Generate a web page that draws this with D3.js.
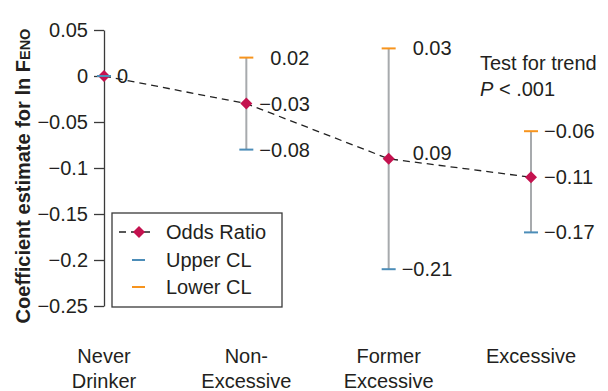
<!DOCTYPE html>
<html>
<head>
<meta charset="utf-8">
<script src="https://cdn.jsdelivr.net/npm/d3@7"></script>
<style>
  html, body { margin: 0; padding: 0; background: #fff; }
  svg { display: block; font-family: "Liberation Sans", Arial, Helvetica, sans-serif; }
</style>
</head>
<body>
<div id="chart"></div>
<script>
// Data
const categories = ["Never Drinker", "Non-Excessive", "Former Excessive", "Excessive"];
const estimates = [0, -0.03, -0.09, -0.11];
const upperCL = [0, 0.02, 0.03, -0.06];   // top of bar (orange)
const lowerCL = [0, -0.08, -0.21, -0.17]; // bottom of bar (blue)
const estimateLabels = ["0", "\u22120.03", "0.09", "\u22120.11"];
const topLabels = [null, "0.02", "0.03", "\u22120.06"];
const bottomLabels = [null, "\u22120.08", "\u22120.21", "\u22120.17"];
const yTicks = [0.05, 0, -0.05, -0.1, -0.15, -0.2, -0.25];
const yTickLabels = ["0.05", "0", "\u22120.05", "\u22120.1", "\u22120.15", "\u22120.2", "\u22120.25"];

// Colors
const textColor = "#231F20";
const axisColor = "#3a3a3a";
const markerColor = "#C4124F";
const barColor = "#A7AAAD";
const orange = "#F7941D";
const blue = "#4C8DB8";

const width = 608, height = 391;
const fontSize = "20px";

const svg = d3.select("#chart").append("svg")
    .attr("width", width)
    .attr("height", height);

const x = d3.scalePoint().domain(categories).range([104, 531]);
const y = d3.scaleLinear().domain([-0.25, 0.05]).range([306, 30]);

// Y axis
const yAxis = d3.axisLeft(y)
    .tickValues(yTicks)
    .tickSize(10)
    .tickSizeOuter(0)
    .tickFormat((d, i) => yTickLabels[i]);

const yg = svg.append("g")
    .attr("transform", "translate(104,0)")
    .call(yAxis);
yg.select(".domain").attr("stroke", axisColor).attr("stroke-width", 1.3);
yg.selectAll(".tick line").attr("stroke", axisColor).attr("stroke-width", 1.3);
yg.selectAll(".tick text")
    .attr("x", -16)
    .attr("fill", textColor)
    .attr("font-size", fontSize)
    .attr("font-family", "'Liberation Sans', Arial, sans-serif");

// Y title
const yTitle = svg.append("text")
    .attr("transform", "translate(30,176) rotate(-90)")
    .attr("text-anchor", "middle")
    .attr("fill", textColor)
    .attr("font-size", "20px")
    .attr("font-weight", "bold");
yTitle.append("tspan").text("Coefficient estimate for ln F");
yTitle.append("tspan").attr("font-size", "14.5px").text("ENO");

// X category labels (two lines)
const labelLines = {
    "Never Drinker": ["Never", "Drinker"],
    "Non-Excessive": ["Non-", "Excessive"],
    "Former Excessive": ["Former", "Excessive"],
    "Excessive": ["Excessive"]
};
categories.forEach(c => {
    const t = svg.append("text")
        .attr("x", x(c))
        .attr("y", 363)
        .attr("text-anchor", "middle")
        .attr("fill", textColor)
        .attr("font-size", fontSize);
    labelLines[c].forEach((l, i) => {
        t.append("tspan").attr("x", x(c)).attr("dy", i === 0 ? 0 : 25).text(l);
    });
});

// Dashed trend line
const line = d3.line()
    .x((d, i) => x(categories[i]))
    .y(d => y(d));
svg.append("path")
    .datum(estimates)
    .attr("fill", "none")
    .attr("stroke", "#222")
    .attr("stroke-width", 1.3)
    .attr("stroke-dasharray", "7,5")
    .attr("d", line);

// Error bars
categories.forEach((c, i) => {
    svg.append("line")
        .attr("x1", x(c)).attr("x2", x(c))
        .attr("y1", y(upperCL[i])).attr("y2", y(lowerCL[i]))
        .attr("stroke", barColor)
        .attr("stroke-width", 2);
});

// Diamonds
const diamond = (cx, cy, r) => `M${cx},${cy - r}L${cx + r},${cy}L${cx},${cy + r}L${cx - r},${cy}Z`;
categories.forEach((c, i) => {
    svg.append("path")
        .attr("d", diamond(x(c), y(estimates[i]), 6))
        .attr("fill", markerColor);
});

// Caps
categories.forEach((c, i) => {
    svg.append("line")
        .attr("x1", x(c) - 7).attr("x2", x(c) + 7)
        .attr("y1", y(upperCL[i])).attr("y2", y(upperCL[i]))
        .attr("stroke", orange).attr("stroke-width", 2);
    svg.append("line")
        .attr("x1", x(c) - 7).attr("x2", x(c) + 7)
        .attr("y1", y(lowerCL[i])).attr("y2", y(lowerCL[i]))
        .attr("stroke", blue).attr("stroke-width", 2);
});

// Value labels
const labelDx = s => (s.startsWith("\u2212") || s === "0") ? 13 : 24;
function valueLabel(cx, cy, s, dy) {
    svg.append("text")
        .attr("x", cx + labelDx(s))
        .attr("y", cy + dy)
        .attr("dy", "0.35em")
        .attr("fill", textColor)
        .attr("font-size", fontSize)
        .text(s);
}
categories.forEach((c, i) => {
    const px = x(c);
    valueLabel(px, y(estimates[i]), estimateLabels[i], i === 2 ? -6 : 0);
    if (topLabels[i]) valueLabel(px, y(upperCL[i]), topLabels[i], 0);
    if (bottomLabels[i]) valueLabel(px, y(lowerCL[i]), bottomLabels[i], 0);
});

// Test for trend annotation
svg.append("text")
    .attr("x", 480).attr("y", 70)
    .attr("fill", textColor).attr("font-size", fontSize)
    .text("Test for trend");
const pText = svg.append("text")
    .attr("x", 480).attr("y", 96)
    .attr("fill", textColor).attr("font-size", fontSize);
pText.append("tspan").attr("font-style", "italic").text("P");
pText.append("tspan").text(" < .001");

// Legend
const lg = svg.append("g").attr("transform", "translate(112,213)");
lg.append("rect")
    .attr("x", 0).attr("y", 0)
    .attr("width", 170).attr("height", 94)
    .attr("fill", "#fff")
    .attr("stroke", axisColor)
    .attr("stroke-width", 1.3);
lg.append("line")
    .attr("x1", 7).attr("x2", 43).attr("y1", 19).attr("y2", 19)
    .attr("stroke", "#222").attr("stroke-width", 1.3)
    .attr("stroke-dasharray", "7,5");
lg.append("path").attr("d", diamond(27, 19, 6)).attr("fill", markerColor);
lg.append("line")
    .attr("x1", 20).attr("x2", 33).attr("y1", 47).attr("y2", 47)
    .attr("stroke", blue).attr("stroke-width", 2);
lg.append("line")
    .attr("x1", 20).attr("x2", 33).attr("y1", 74).attr("y2", 74)
    .attr("stroke", orange).attr("stroke-width", 2);
["Odds Ratio", "Upper CL", "Lower CL"].forEach((s, i) => {
    lg.append("text")
        .attr("x", 54).attr("y", 19 + i * 27.5)
        .attr("dy", "0.35em")
        .attr("fill", textColor)
        .attr("font-size", fontSize)
        .text(s);
});
</script>
</body>
</html>
